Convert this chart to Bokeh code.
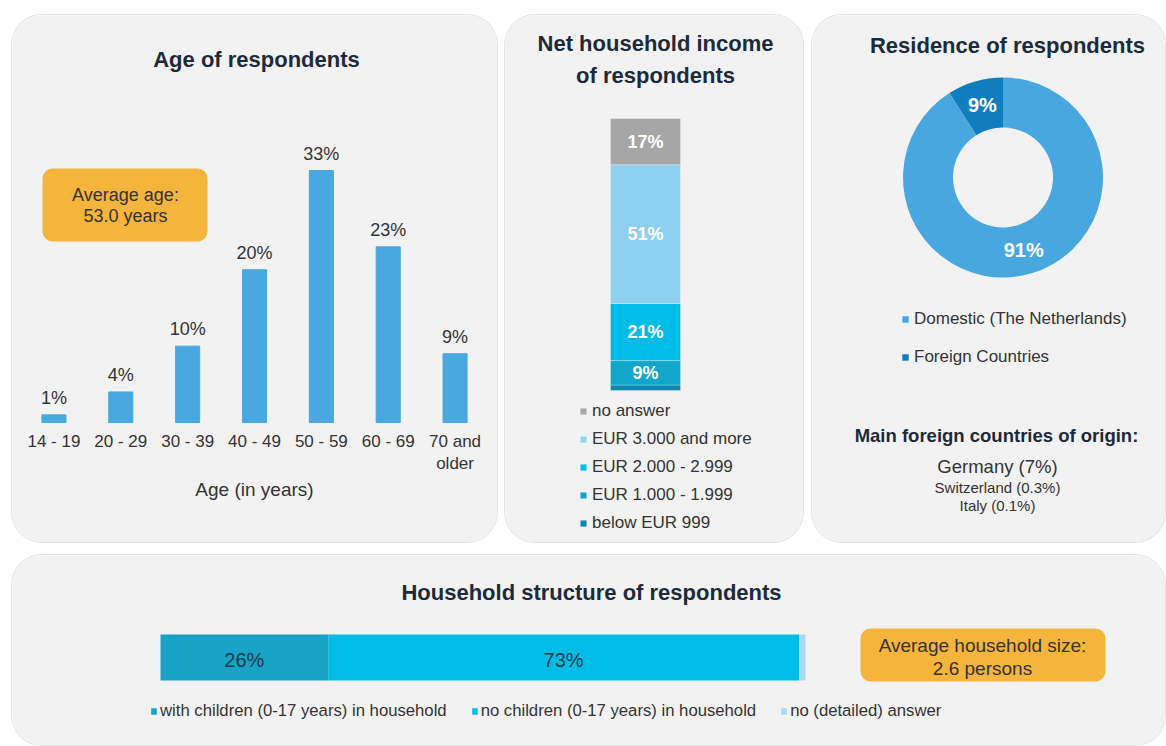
import numpy as np
from bokeh.plotting import figure
from bokeh.layouts import row, column
from bokeh.models import Range1d, ColumnDataSource, Legend, LegendItem, Spacer
from bokeh.core.properties import value
from bokeh.embed import file_html
from bokeh.resources import INLINE

# ---------------- data ----------------
age_groups = ["14 - 19", "20 - 29", "30 - 39", "40 - 49", "50 - 59", "60 - 69", "70 and\nolder"]
age_share = [1, 4, 10, 20, 33, 23, 9]
age_axis_label = "Age (in years)"
average_age_text = "Average age:\n53.0 years"

income_classes = ["below EUR 999", "EUR 1.000 - 1.999", "EUR 2.000 - 2.999", "EUR 3.000 and more", "no answer"]
income_share = [2, 9, 21, 51, 17]

residence_classes = ["Foreign Countries", "Domestic (The Netherlands)"]
residence_share = [9, 91]

origin_countries = ["Germany", "Switzerland", "Italy"]
origin_share = ["7%", "0.3%", "0.1%"]

household_classes = ["with children (0-17 years) in household",
                     "no children (0-17 years) in household",
                     "no (detailed) answer"]
household_share = [26, 73, 1]
average_household_text = "Average household size:\n2.6 persons"

# ---------------- styles ----------------
FONT = value("Liberation Sans")
PANEL_BG = "#F2F2F2"
TITLE_COLOR = "#1C2A39"
TEXT_COLOR = "#333333"
ORANGE = "#F5B43B"
AGE_BLUE = "#49A8E0"
income_colors = ["#0E86AE", "#12A6CA", "#00BDE8", "#8FCFEF", "#A6A6A6"]
residence_colors = ["#0F7DBE", "#49A7E0"]
household_colors = ["#17A2C6", "#00BDE8", "#A9D9F2"]


def panel(width, height, **kw):
    p = figure(width=width, height=height, output_backend="svg", toolbar_location=None,
               background_fill_color=PANEL_BG, border_fill_color=PANEL_BG,
               outline_line_color=None, x_axis_location=None, y_axis_location=None, **kw)
    p.min_border_left = 0
    p.min_border_right = 0
    p.min_border_top = 0
    p.min_border_bottom = 0
    p.styles = {"border-radius": "30px", "overflow": "hidden",
                "box-shadow": "0 0 0 1px #E3E3E3"}
    p.xgrid.grid_line_color = None
    p.ygrid.grid_line_color = None
    return p


def title_text(p, x, y, txt, size="22px", **kw):
    p.text(x=[x], y=[y], text=[txt], text_font=FONT, text_font_size=size,
           text_font_style="bold", text_color=TITLE_COLOR, text_align="center",
           text_baseline="middle", **kw)


# ================= Age panel =================
AGE_W, AGE_H = 485, 527
age_band = (AGE_W - 17) / len(age_groups)      # px per category
age_unit = 7.636                               # px per percentage point
age_base = 422 - 15                            # baseline, px from panel top
age_pos = list(range(len(age_groups)))
p1 = panel(AGE_W, AGE_H,
           x_range=Range1d(-0.5 - 8 / age_band, len(age_groups) - 0.5 + 9 / age_band),
           y_range=Range1d(-(AGE_H - age_base) / age_unit, age_base / age_unit))
p1.extra_x_ranges = {"px": Range1d(0, AGE_W)}
p1.extra_y_ranges = {"px": Range1d(0, AGE_H)}
ax = lambda X: X - 12
ay = lambda Y: AGE_H - (Y - 15)

p1.vbar(x=age_pos, top=age_share, width=0.36, color=AGE_BLUE)
p1.text(x=age_pos, y=age_share, text=[f"{v}%" for v in age_share], text_font=FONT,
        text_font_size="18px", text_color=TEXT_COLOR, text_align="center",
        text_baseline="alphabetic", y_offset=-17)
# category axis labels
p1.text(x=age_pos, y=[0] * len(age_pos), text=age_groups, text_font=FONT,
        text_font_size="17px", text_color=TEXT_COLOR, text_align="center",
        text_baseline="top", text_line_height=1.17, y_offset=9)
p1.text(x=[(len(age_groups) - 1) / 2], y=[0], text=[age_axis_label], text_font=FONT,
        text_font_size="19px", text_color=TEXT_COLOR, text_align="center",
        text_baseline="middle", y_offset=67)

title_text(p1, ax(256), ay(59), "Age of respondents", x_range_name="px", y_range_name="px")
p1.quad(left=[ax(42)], right=[ax(207)], top=[ay(168)], bottom=[ay(241)], border_radius=10,
        fill_color=ORANGE, line_color=None, x_range_name="px", y_range_name="px")
p1.text(x=[ax(125)], y=[ay(204.5)], text=[average_age_text], text_font=FONT,
        text_font_size="18px", text_color=TEXT_COLOR, text_align="center",
        text_baseline="middle", text_line_height=1.05, x_range_name="px", y_range_name="px")

# ================= Income panel =================
INC_W, INC_H = 298, 527
ix = lambda X: X - 505
iy = lambda Y: INC_H - (Y - 15)
inc_px = 2.72
p2 = panel(INC_W, INC_H, x_range=Range1d(0, INC_W),
           y_range=Range1d(-(iy(390)) / inc_px, (INC_H - iy(390)) / inc_px))
p2.extra_y_ranges = {"px": Range1d(0, INC_H)}
inc_top = np.cumsum(income_share)
inc_bottom = inc_top - np.array(income_share)
inc_src = ColumnDataSource(dict(cls=income_classes, bottom=inc_bottom, top=inc_top,
                                mid=(inc_bottom + inc_top) / 2, color=income_colors,
                                label=[f"{v}%" if v >= 5 else "" for v in income_share]))
r_inc = p2.vbar(x=ix(645), width=70, bottom="bottom", top="top", fill_color="color",
                line_color="white", line_alpha=0.35, line_width=0.8, source=inc_src)
p2.text(x=ix(645), y="mid", text="label", text_font=FONT, text_font_size="18px",
        text_font_style="bold", text_color="white", text_align="center",
        text_baseline="middle", source=inc_src)
title_text(p2, ix(655), iy(59), "Net household income\nof respondents",
           text_line_height=1.25, y_range_name="px")
inc_legend = Legend(items=[LegendItem(label=income_classes[i], renderers=[r_inc], index=i)
                           for i in reversed(range(len(income_classes)))],
                    location=(ix(579), 9), orientation="vertical",
                    glyph_width=8, glyph_height=8, label_standoff=5, label_height=20,
                    spacing=8, padding=0, margin=0, background_fill_alpha=0,
                    border_line_alpha=0, label_text_font="Liberation Sans",
                    label_text_font_size="17px", label_text_color=TEXT_COLOR)
p2.add_layout(inc_legend)

# ================= Residence panel =================
RES_W, RES_H = 353, 527
rx = lambda X: X - 812
ry = lambda Y: RES_H - (Y - 15)
p3 = panel(RES_W, RES_H, x_range=Range1d(0, RES_W), y_range=Range1d(0, RES_H))
cx, cy = rx(1002.5), ry(177)
fr = np.array(residence_share) / 100.0
start = np.pi / 2 + 2 * np.pi * (np.cumsum(fr) - fr)
end = start + 2 * np.pi * fr
mid = (start + end) / 2
res_src = ColumnDataSource(dict(cls=residence_classes, start=start, end=end,
                                color=residence_colors,
                                lx=cx + 74 * np.cos(mid), ly=cy + 75 * np.sin(mid),
                                label=[f"{v}%" for v in residence_share]))
r_res = p3.annular_wedge(x=cx, y=cy, inner_radius=50, outer_radius=100, start_angle="start",
                         end_angle="end", direction="anticlock", fill_color="color",
                         line_color=None, source=res_src)
p3.text(x="lx", y="ly", text="label", text_font=FONT, text_font_size="20px",
        text_font_style="bold", text_color="white", text_align="center",
        text_baseline="middle", source=res_src)
title_text(p3, rx(1007), ry(45), "Residence of respondents")
res_legend = Legend(items=[LegendItem(label=residence_classes[i], renderers=[r_res], index=i)
                           for i in reversed(range(len(residence_classes)))],
                    location=(rx(901), 175), orientation="vertical",
                    glyph_width=8, glyph_height=8, label_standoff=5, label_height=20,
                    spacing=18, padding=0, margin=0, background_fill_alpha=0,
                    border_line_alpha=0, label_text_font="Liberation Sans",
                    label_text_font_size="17px", label_text_color=TEXT_COLOR)
p3.add_layout(res_legend)
title_text(p3, rx(996), ry(435), "Main foreign countries of origin:", size="18.5px")
p3.text(x=[rx(997)] * 3, y=[ry(466), ry(487), ry(505)],
        text=[f"{c} ({s})" for c, s in zip(origin_countries, origin_share)],
        text_font=FONT, text_font_size=["18.5px", "15px", "15px"], text_color=TEXT_COLOR,
        text_align="center", text_baseline="middle")

# ================= Household panel =================
HH_W, HH_H = 1153, 190
bx = lambda X: X - 12
by = lambda Y: HH_H - (Y - 555)
hh_px = 6.45
p4 = panel(HH_W, HH_H, x_range=Range1d(-bx(160) / hh_px, (HH_W - bx(160)) / hh_px),
           y_range=Range1d(0, HH_H))
p4.extra_x_ranges = {"px": Range1d(0, HH_W)}
hh_right = np.cumsum(household_share)
hh_left = hh_right - np.array(household_share)
hh_src = ColumnDataSource(dict(cls=household_classes, left=hh_left, right=hh_right,
                               mid=(hh_left + hh_right) / 2, color=household_colors,
                               label=[f"{v}%" if v >= 5 else "" for v in household_share]))
r_hh = p4.hbar(y=by(657), height=46, left="left", right="right", fill_color="color",
               line_color=None, source=hh_src)
p4.text(x="mid", y=by(659), text="label", text_font=FONT, text_font_size="20px",
        text_color="#1E3B4C", text_align="center", text_baseline="middle", source=hh_src)
title_text(p4, bx(591), by(592), "Household structure of respondents", x_range_name="px")
p4.quad(left=[bx(860)], right=[bx(1105)], top=[by(628)], bottom=[by(681)], border_radius=10,
        fill_color=ORANGE, line_color=None, x_range_name="px")
p4.text(x=[bx(982)], y=[by(656.5)], text=[average_household_text], text_font=FONT,
        text_font_size="19px", text_color=TEXT_COLOR, text_align="center",
        text_baseline="middle", text_line_height=1.1, x_range_name="px")
hh_legend = Legend(items=[LegendItem(label=household_classes[i], renderers=[r_hh], index=i)
                          for i in range(len(household_classes))],
                   location=(bx(150), 24), orientation="horizontal",
                   glyph_width=7, glyph_height=8, label_standoff=3, label_height=20,
                   spacing=24, padding=0, margin=0, background_fill_alpha=0,
                   border_line_alpha=0, label_text_font="Liberation Sans",
                   label_text_font_size="16.7px", label_text_color=TEXT_COLOR)
p4.add_layout(hh_legend)

# ================= layout =================
top_row = row(Spacer(width=12), p1, Spacer(width=8), p2, Spacer(width=9), p3)
bottom_row = row(Spacer(width=12), p4)
layout = column(Spacer(height=15), top_row, Spacer(height=13), bottom_row)

open("out.html", "w").write(file_html(layout, INLINE, title="Respondent profile"))
